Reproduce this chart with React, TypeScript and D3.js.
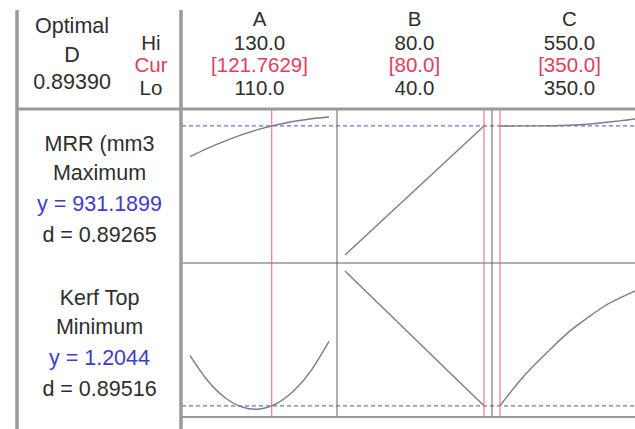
import React from "react";
import * as d3 from "d3";

// ---- data ----
const factors = ["A", "B", "C"];
const hiLabels = ["130.0", "80.0", "550.0"];
const curLabels = ["[121.7629]", "[80.0]", "[350.0]"];
const loLabels = ["110.0", "40.0", "350.0"];
const factorLo = [110, 40, 350];
const factorHi = [130, 80, 550];
const factorCur = [121.7629, 80, 350];

const levelsA = [110, 112.5, 115, 117.5, 120, 122.5, 125, 127.5, 130];
const levelsB = [40, 50, 60, 70, 80];
const levelsC = [350, 375, 400, 425, 450, 475, 500, 525, 550];

const mrrA = [768.8, 812.8, 851, 885, 914, 937.5, 955.8, 969.5, 978.4];
const mrrB = [250, 420, 590.5, 761, 931.19];
const mrrC = [931.19, 931.3, 931.5, 932.5, 934.9, 940, 949.5, 959, 970.5];

const kerfA = [1.352, 1.2794, 1.2289, 1.2009, 1.195, 1.2112, 1.2499, 1.3101, 1.3933];
const kerfB = [1.6, 1.501, 1.402, 1.303, 1.2044];
const kerfC = [1.2044, 1.2693, 1.3254, 1.3756, 1.4228, 1.4612, 1.4966, 1.5232, 1.5468];

const responseNames = ["MRR (mm3", "Kerf Top"];
const goals = ["Maximum", "Minimum"];
const yTexts = ["y = 931.1899", "y = 1.2044"];
const dTexts = ["d = 0.89265", "d = 0.89516"];
const yCurrent = [931.1899, 1.2044];
const optimalD = "0.89390";

const levels = [levelsA, levelsB, levelsC];
const rows = [
  [mrrA, mrrB, mrrC],
  [kerfA, kerfB, kerfC],
];

// ---- layout ----
const W = 635;
const H = 429;
const leftX = 17;
const plotX0 = 182;
const panelW = 155;
const headBottom = 109;
const rowH = 154;
const padX = 8;
const padY = 8;
const font = "'Liberation Sans', Arial, sans-serif";
const textCol = "#2e2e2e";
const redCol = "#e0405c";
const blueCol = "#3c3cd0";
const frameCol = "#9a9a9a";
const innerCol = "#606060";

export default function App() {
  const xScales = factors.map((_, i) =>
    d3
      .scaleLinear()
      .domain([factorLo[i], factorHi[i]])
      .range([plotX0 + i * panelW + padX, plotX0 + (i + 1) * panelW - padX])
  );
  const yScales = rows.map((series, j) => {
    const all = series.flat();
    const top = headBottom + j * rowH;
    return d3
      .scaleLinear()
      .domain(d3.extent(all) as [number, number])
      .range([top + rowH - padY, top + padY]);
  });

  const plotBottom = headBottom + rows.length * rowH;

  return (
    <svg
      width={W}
      height={H}
      style={{ position: "absolute", left: 0, top: 0, background: "#fff" }}
      fontFamily={font}
    >
      <rect x={0} y={0} width={W} height={H} fill="#fff" />
      {/* header texts */}
      <g fill={textCol} fontSize={20.5} textAnchor="middle">
        <text x={72} y={33} fontSize={21.5}>Optimal</text>
        <text x={72} y={62} fontSize={21.5}>D</text>
        <text x={72} y={89} fontSize={21.5}>{optimalD}</text>
        <text x={151} y={50}>Hi</text>
        <text x={151} y={72} fill={redCol}>Cur</text>
        <text x={151} y={95}>Lo</text>
        {factors.map((f, i) => {
          const cx = plotX0 + i * panelW + panelW / 2;
          return (
            <g key={f}>
              <text x={cx} y={26}>{f}</text>
              <text x={cx} y={50}>{hiLabels[i]}</text>
              <text x={cx} y={72} fill={redCol}>{curLabels[i]}</text>
              <text x={cx} y={95}>{loLabels[i]}</text>
            </g>
          );
        })}
      </g>

      {/* response labels */}
      <g fontSize={21.5} textAnchor="middle" fill={textCol}>
        {responseNames.map((r, j) => {
          const top = headBottom + j * rowH;
          const cx = (leftX + plotX0) / 2;
          return (
            <g key={r}>
              <text x={cx} y={top + 42}>{r}</text>
              <text x={cx} y={top + 71}>{goals[j]}</text>
              <text x={cx} y={top + 102} fill={blueCol}>{yTexts[j]}</text>
              <text x={cx} y={top + 133}>{dTexts[j]}</text>
            </g>
          );
        })}
      </g>

      {/* current-value dashed lines */}
      {yScales.map((ys, j) => (
        <line
          key={"dash" + j}
          x1={plotX0}
          x2={W}
          y1={ys(yCurrent[j])}
          y2={ys(yCurrent[j])}
          stroke="#6f6fd8"
          strokeWidth={1.2}
          strokeDasharray="4,3"
        />
      ))}

      {/* curves */}
      {rows.map((series, j) =>
        series.map((vals, i) => {
          const line = d3
            .line<number>()
            .x((_, k) => xScales[i](levels[i][k]))
            .y((v) => yScales[j](v))
            .curve(d3.curveNatural);
          return (
            <path
              key={"c" + j + i}
              d={line(vals) || ""}
              fill="none"
              stroke="#7c7c84"
              strokeWidth={1.4}
            />
          );
        })
      )}

      {/* panel separators */}
      {factors.slice(1).map((_, i) => (
        <line
          key={"sep" + i}
          x1={plotX0 + (i + 1) * panelW}
          x2={plotX0 + (i + 1) * panelW}
          y1={headBottom}
          y2={plotBottom}
          stroke={innerCol}
          strokeWidth={1}
        />
      ))}
      {/* row separators */}
      {rows.slice(1).map((_, j) => (
        <line
          key={"rs" + j}
          x1={plotX0}
          x2={W}
          y1={headBottom + (j + 1) * rowH}
          y2={headBottom + (j + 1) * rowH}
          stroke={innerCol}
          strokeWidth={1}
        />
      ))}

      {/* current factor red lines */}
      {factorCur.map((c, i) => (
        <line
          key={"red" + i}
          x1={xScales[i](c)}
          x2={xScales[i](c)}
          y1={headBottom}
          y2={plotBottom}
          stroke="#e8607e"
          strokeWidth={1}
        />
      ))}

      {/* frame */}
      <line x1={leftX} x2={leftX} y1={10} y2={H} stroke={frameCol} strokeWidth={3.5} />
      <line x1={plotX0 - 1} x2={plotX0 - 1} y1={10} y2={H} stroke={frameCol} strokeWidth={3.5} />
      <line x1={leftX} x2={W} y1={headBottom} y2={headBottom} stroke={frameCol} strokeWidth={3} />
      <line x1={plotX0} x2={W} y1={plotBottom} y2={plotBottom} stroke={frameCol} strokeWidth={2} />
    </svg>
  );
}
